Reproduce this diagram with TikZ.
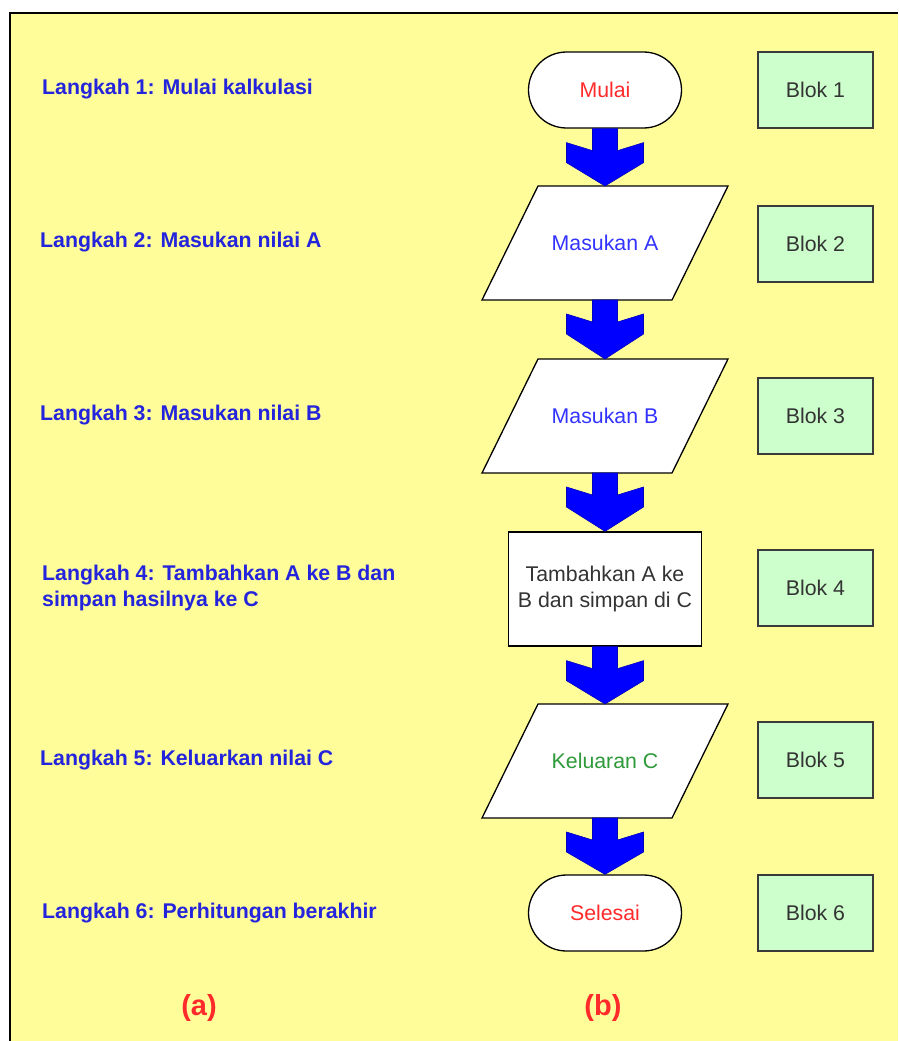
\documentclass[tikz,border=0pt]{standalone}
\usepackage{fontspec}
\setmainfont{Liberation Sans}
\usetikzlibrary{shapes.misc,calc,backgrounds}
\definecolor{bgyellow}{HTML}{FFFD99}
\definecolor{labelblue}{HTML}{2424DC}
\definecolor{flowblue}{HTML}{3333FF}
\definecolor{flowred}{HTML}{FF2A2A}
\definecolor{flowgreen}{HTML}{2E9A3A}
\definecolor{textgray}{HTML}{333333}
\definecolor{blokgreen}{HTML}{CCFFCC}
\definecolor{blokedge}{HTML}{3A3A3A}
\definecolor{arrowblue}{HTML}{0000FF}
\newcommand\flowsize{\fontsize{21.3}{26}\selectfont}
\newcommand\blkarrow[2]{%
  \filldraw[barrow] ($(#1)+(-12.5,0)$) -- ($(#1)+(-12.5,22)$) -- ($(#1)+(-38.5,14)$)
    -- ($(#1)+(-38.5,34)$) -- (#1 |- #2) -- ($(#1)+(38.5,34)$) -- ($(#1)+(38.5,14)$)
    -- ($(#1)+(12.5,22)$) -- ($(#1)+(12.5,0)$) -- cycle;}
\newcommand\paraoutline[1]{%
  \filldraw[paraline] ($(#1.north west)+(28,0)$) -- ($(#1.north east)+(28,0)$)
    -- ($(#1.south east)+(-28,0)$) -- ($(#1.south west)+(-28,0)$) -- cycle;}
\begin{document}
\begin{tikzpicture}[x=1pt,y=-1pt,
  term/.style={rounded rectangle, draw=black, fill=white, line width=1.3pt,
    minimum width=153pt, minimum height=76pt, inner sep=0pt, font=\flowsize},
  para/.style={rectangle, minimum width=190pt, minimum height=114pt,
    inner sep=0pt, outer sep=0pt, font=\flowsize},
  paraline/.style={draw=black, fill=white, line width=1.3pt, line join=miter},
  proc/.style={rectangle, draw=black, fill=white, line width=1.3pt,
    minimum width=193pt, minimum height=114pt, inner sep=0pt, align=center,
    font=\flowsize, text=textgray},
  blok/.style={rectangle, draw=blokedge, fill=blokgreen, line width=2pt,
    minimum width=115pt, minimum height=76pt, inner sep=0pt, font=\flowsize, text=textgray},
  steplabel/.style={anchor=west, inner sep=0pt, align=left, text=labelblue,
    font=\flowsize\bfseries},
  caption/.style={text=flowred, font=\fontsize{29}{34}\selectfont\bfseries},
  barrow/.style={fill=arrowblue, draw=arrowblue!75!black, line width=0.6pt, line join=miter}
]
\useasboundingbox (0,0) rectangle (898,1041);
\begin{pgfonlayer}{background}
\fill[bgyellow] (10,13) rectangle (898,1041);
\end{pgfonlayer}
\draw[line width=2pt] (10,1041) -- (10,13) -- (898,13);

% left labels
\node[steplabel] (l1) at (42,89) {Langkah 1: Mulai kalkulasi};
\node[steplabel] (l2) at (40,242) {Langkah 2: Masukan nilai A};
\node[steplabel] (l3) at (40,415) {Langkah 3: Masukan nilai B};
\node[steplabel] (l4) at (42,588) {Langkah 4: Tambahkan A ke B dan\\simpan hasilnya ke C};
\node[steplabel] (l5) at (40,760) {Langkah 5: Keluarkan nilai C};
\node[steplabel] (l6) at (42,913) {Langkah 6: Perhitungan berakhir};

% flow
\node[term, text=flowred] (m) at (605,90) {Mulai};
\node[para, text=flowblue] (pa) at (605,243) {Masukan A};
\node[para, text=flowblue] (pb) at (605,416) {Masukan B};
\node[proc] (pr) at (605,589) {Tambahkan A ke\\B dan simpan di C};
\node[para, text=flowgreen] (pc) at (605,761) {Keluaran C};
\node[term, text=flowred] (s) at (605,913) {Selesai};

\begin{pgfonlayer}{background}
\paraoutline{pa}
\paraoutline{pb}
\paraoutline{pc}
\end{pgfonlayer}

\blkarrow{m.south}{pa.north}
\blkarrow{pa.south}{pb.north}
\blkarrow{pb.south}{pr.north}
\blkarrow{pr.south}{pc.north}
\blkarrow{pc.south}{s.north}

% blocks
\node[blok] (b1) at (815.5,90) {Blok 1};
\node[blok] (b2) at (815.5,244) {Blok 2};
\node[blok] (b3) at (815.5,416) {Blok 3};
\node[blok] (b4) at (815.5,588) {Blok 4};
\node[blok] (b5) at (815.5,760) {Blok 5};
\node[blok] (b6) at (815.5,913) {Blok 6};

\node[caption] (ca) at (199,1008) {(a)};
\node[caption] (cb) at (603,1008) {(b)};
\end{tikzpicture}
\end{document}
